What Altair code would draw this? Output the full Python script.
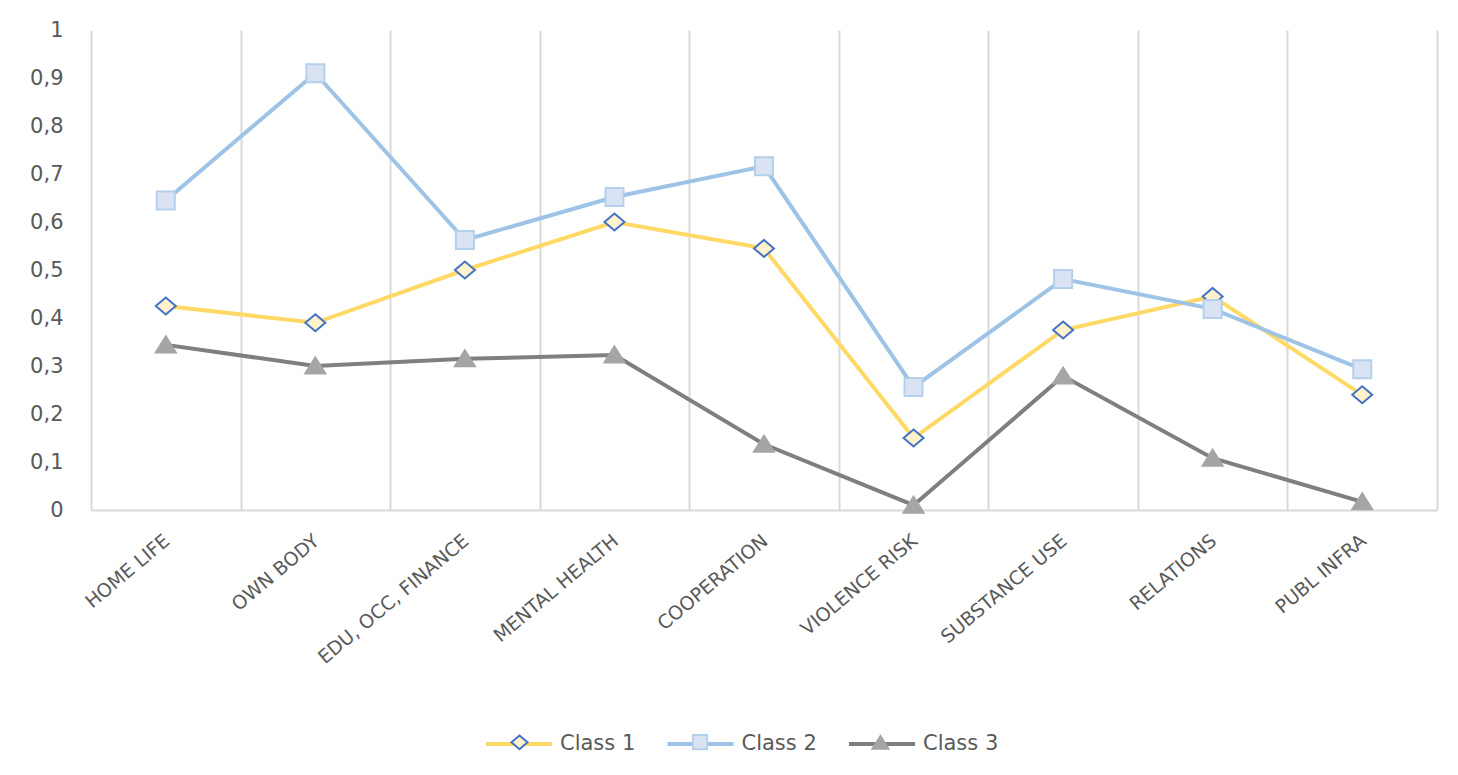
import altair as alt
import pandas as pd

categories = ["HOME LIFE", "OWN BODY", "EDU, OCC, FINANCE", "MENTAL HEALTH",
              "COOPERATION", "VIOLENCE RISK", "SUBSTANCE USE", "RELATIONS", "PUBL INFRA"]
classes = ["Class 1", "Class 2", "Class 3"]
class1 = [0.425, 0.39, 0.50, 0.60, 0.545, 0.15, 0.375, 0.445, 0.24]
class2 = [0.645, 0.91, 0.5625, 0.652, 0.716, 0.256, 0.481, 0.419, 0.293]
class3 = [0.344, 0.30, 0.315, 0.323, 0.137, 0.01, 0.279, 0.108, 0.017]
y_ticks = [0, 0.1, 0.2, 0.3, 0.4, 0.5, 0.6, 0.7, 0.8, 0.9, 1.0]

line_colors = ["#ffd966", "#9dc3e6", "#7f7f7f"]
marker_fills = ["#fff2cc", "#dae3f3", "#a5a5a5"]
marker_strokes = ["#4472c4", "#b4d0ec", "#a5a5a5"]
marker_paths = ["M0,-0.85L1,0L0,0.85L-1,0Z",
                "M-0.9,-0.9H0.9V0.9H-0.9Z",
                "M0,-0.85L1,0.75H-1Z"]

rows = []
for cls, vals in zip(classes, [class1, class2, class3]):
    for c, v in zip(categories, vals):
        rows.append({"category": c, "Class": cls, "value": v})
df = pd.DataFrame(rows)

# separate key for the marker legend so it is not merged with the line legend
marker_keys = ["M" + c for c in classes]

FONT = "DejaVu Sans"
GREY = "#595959"

x_enc = alt.X(
    "category:N", sort=categories,
    scale=alt.Scale(type="band", paddingInner=0, paddingOuter=0),
    bandPosition=0.5,
    axis=alt.Axis(title=None, tickBand="extent", grid=True, gridColor="#d9d9d9",
                  gridWidth=2, ticks=False, domain=True, domainColor="#d9d9d9",
                  domainWidth=2, labelAngle=-40, labelAlign="right",
                  labelBaseline="top", labelPadding=21, labelOffset=-5,
                  labelFont=FONT, labelFontSize=19, labelColor=GREY,
                  labelLimit=400),
)
y_enc = alt.Y(
    "value:Q", scale=alt.Scale(domain=[0, 1], nice=False, zero=True),
    axis=alt.Axis(title=None, values=y_ticks, grid=False, domain=False, ticks=False,
                  labelExpr="replace(format(datum.value, '.1~f'), '.', ',')",
                  labelPadding=28, labelFont=FONT, labelFontSize=21,
                  labelColor=GREY, labelBaseline="middle"),
)

LX, LY = 393, 679
legA = alt.Legend(title=None, orient="none", legendX=LX, legendY=LY,
                  direction="horizontal", symbolType="stroke", symbolSize=4356,
                  symbolStrokeWidth=4, labelOffset=6, columnPadding=23.5,
                  labelFont=FONT, labelFontSize=21, labelColor=GREY, padding=0)
legB = alt.Legend(title=None, orient="none", legendX=LX + 25, legendY=LY + 22.5,
                  direction="horizontal", symbolSize=256, symbolStrokeWidth=2,
                  labelOffset=0, columnPadding=156.5, labelFont=FONT,
                  labelFontSize=21, padding=0, labelExpr="''")

lines = alt.Chart(df).mark_line(strokeWidth=4).encode(
    x=x_enc, y=y_enc,
    color=alt.Color("Class:N", scale=alt.Scale(domain=classes, range=line_colors),
                    legend=legA),
)

points = alt.Chart(df).transform_calculate(cls="'M' + datum.Class").mark_point(
    filled=True, opacity=1, size=400, strokeWidth=2
).encode(
    x=x_enc, y=y_enc,
    shape=alt.Shape("cls:N", scale=alt.Scale(domain=marker_keys, range=marker_paths), legend=legB),
    fill=alt.Fill("cls:N", scale=alt.Scale(domain=marker_keys, range=marker_fills), legend=legB),
    stroke=alt.Stroke("cls:N", scale=alt.Scale(domain=marker_keys, range=marker_strokes), legend=legB),
)

chart = alt.layer(lines, points).properties(
    width=1346, height=480,
    autosize=alt.AutoSizeParams(type="none"),
    padding={"left": 83, "top": 22, "right": 13, "bottom": 257},
    background="white",
).configure_view(stroke=None)

chart.save("out.html", embed_options={"renderer": "svg", "actions": False})
